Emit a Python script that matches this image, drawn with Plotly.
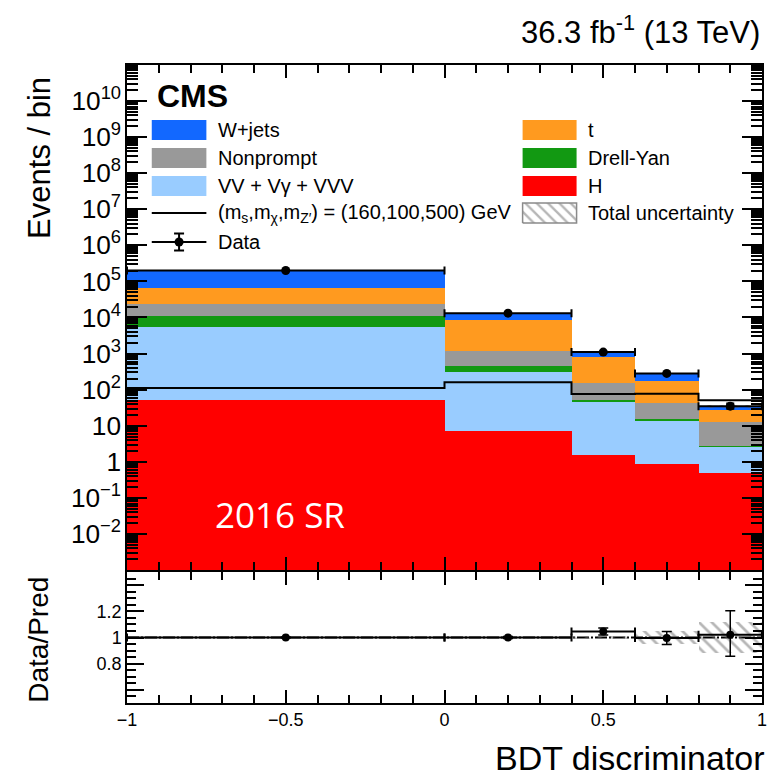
import numpy as np
import plotly.graph_objects as go

# ---- binning (BDT discriminator) ----
bin_edges = [-1.0, 0.0, 0.4, 0.6, 0.8, 1.0]

# ---- expected yields per process and bin ----
h_yield = [52, 7.0, 1.6, 0.89, 0.49]
vv_yield = [5348, 309, 44.4, 13.1, 2.2]
dy_yield = [5500, 134, 5.0, 1.0, 0.05]
nonprompt_yield = [12100, 720, 99, 29, 10.15]
top_yield = [44000, 7330, 680, 126, 14.1]
wjets_yield = [133000, 4700, 222, 113, 7.3]

# ---- signal hypothesis (m_s, m_chi, m_Z') = (160, 100, 500) GeV ----
signal_yield = [111, 160, 76, 77, 51]

# ---- observed data and relative statistical errors ----
data_obs = [200000, 13200, 1100, 282, 35]
data_rel_up = [0.003, 0.008, 0.025, 0.05, 0.18]
data_rel_dn = [0.003, 0.008, 0.025, 0.05, 0.16]

# ---- relative total uncertainty of the prediction ----
pred_rel_unc = [0.004, 0.005, 0.015, 0.05, 0.115]

# stack order from bottom to top, with fill colours and legend labels
processes = [
    ("H", h_yield, "#ff0000"),
    ("VV + V\u03b3 + VVV", vv_yield, "#99ccff"),
    ("Drell-Yan", dy_yield, "#129912"),
    ("Nonprompt", nonprompt_yield, "#999999"),
    ("t", top_yield, "#ff9a1f"),
    ("W+jets", wjets_yield, "#1268ff"),
]

edges = np.array(bin_edges)
centers = 0.5 * (edges[:-1] + edges[1:])
widths = np.diff(edges)
half_w = widths / 2

FONT = "Liberation Sans, Arial, Helvetica, sans-serif"

fig = go.Figure()

# stacked histogram drawn as bars with explicit bases
cum = np.zeros(len(centers))
for i, (name, vals, color) in enumerate(processes):
    vals = np.array(vals, dtype=float)
    fig.add_trace(go.Bar(
        x=centers, y=vals, width=widths,
        base=None if i == 0 else cum.copy(),
        marker=dict(color=color, line=dict(width=0)),
        name=name, showlegend=False, xaxis="x", yaxis="y",
    ))
    cum = cum + vals
total_pred = cum

# total uncertainty band on the stack
unc = np.array(pred_rel_unc)
hatch = dict(shape="\\", fgcolor="#6e6e6e", size=9, solidity=0.3, fillmode="overlay")
fig.add_trace(go.Bar(
    x=centers, y=2 * unc * total_pred, base=total_pred * (1 - unc), width=widths,
    marker=dict(color="rgba(0,0,0,0)", line=dict(width=0), pattern=hatch),
    showlegend=False, xaxis="x", yaxis="y",
))

# signal step line
fig.add_trace(go.Scatter(
    x=edges, y=list(signal_yield) + [signal_yield[-1]],
    mode="lines", line=dict(color="black", width=2, shape="hv"),
    showlegend=False, xaxis="x", yaxis="y",
))

# observed data
data = np.array(data_obs, dtype=float)
fig.add_trace(go.Scatter(
    x=centers, y=data, mode="markers",
    marker=dict(color="black", size=9),
    error_x=dict(type="data", array=half_w, color="black", thickness=2, width=4),
    error_y=dict(type="data", array=data * np.array(data_rel_up),
                 arrayminus=data * np.array(data_rel_dn),
                 color="black", thickness=2, width=4),
    showlegend=False, xaxis="x", yaxis="y",
))

# ---- ratio panel ----
ratio = data / total_pred
fig.add_trace(go.Bar(
    x=centers, y=2 * unc, base=1 - unc, width=widths,
    marker=dict(color="rgba(0,0,0,0)", line=dict(width=0), pattern=hatch),
    showlegend=False, xaxis="x2", yaxis="y2",
))
fig.add_trace(go.Scatter(
    x=centers, y=ratio, mode="markers",
    marker=dict(color="black", size=8),
    error_x=dict(type="data", array=half_w, color="black", thickness=2, width=4),
    error_y=dict(type="data", array=ratio * np.array(data_rel_up),
                 arrayminus=ratio * np.array(data_rel_dn),
                 color="black", thickness=1.5, width=5),
    showlegend=False, xaxis="x2", yaxis="y2",
))

# ---- hand-built two-column legend ----
shapes = []
leg_font = dict(family=FONT, size=20, color="black")
annotations = []
left_x0, left_x1, left_tx = 0.039, 0.125, 0.1406
right_x0, right_x1, right_tx = 0.623, 0.708, 0.7234
row_y = [0.8713, 0.8158, 0.7604, 0.7069, 0.6495]
half_h = 0.0198

legend_boxes = [
    ("W+jets", "#1268ff", left_x0, left_x1, left_tx, row_y[0]),
    ("Nonprompt", "#999999", left_x0, left_x1, left_tx, row_y[1]),
    ("VV + V\u03b3 + VVV", "#99ccff", left_x0, left_x1, left_tx, row_y[2]),
    ("t", "#ff9a1f", right_x0, right_x1, right_tx, row_y[0]),
    ("Drell-Yan", "#129912", right_x0, right_x1, right_tx, row_y[1]),
    ("H", "#ff0000", right_x0, right_x1, right_tx, row_y[2]),
]
for label, color, x0, x1, tx, yc in legend_boxes:
    shapes.append(dict(type="rect", xref="x domain", yref="y domain",
                       x0=x0, x1=x1, y0=yc - half_h, y1=yc + half_h,
                       fillcolor=color, line=dict(width=0), layer="above"))
    annotations.append(dict(xref="x domain", yref="y domain", x=tx, y=yc,
                            text=label, showarrow=False, xanchor="left",
                            yanchor="middle", font=leg_font))

# signal entry
shapes.append(dict(type="line", xref="x domain", yref="y domain",
                   x0=left_x0, x1=left_x1, y0=row_y[3], y1=row_y[3],
                   line=dict(color="black", width=2), layer="above"))
annotations.append(dict(xref="x domain", yref="y domain", x=left_tx, y=row_y[3],
                        text="(m<sub>s</sub>,m<sub>\u03c7</sub>,m<sub>Z\u2032</sub>) = (160,100,500) GeV",
                        showarrow=False, xanchor="left", yanchor="middle", font=leg_font))
# data entry
shapes.append(dict(type="line", xref="x domain", yref="y domain",
                   x0=left_x0, x1=left_x1, y0=row_y[4], y1=row_y[4],
                   line=dict(color="black", width=2), layer="above"))
fig.add_trace(go.Scatter(
    x=[(left_x0 + left_x1) / 2], y=[row_y[4]], mode="markers",
    marker=dict(color="black", size=9),
    error_y=dict(type="constant", value=0.017, color="black", thickness=2, width=5),
    showlegend=False, xaxis="x3", yaxis="y3", hoverinfo="skip",
))
annotations.append(dict(xref="x domain", yref="y domain", x=left_tx, y=row_y[4],
                        text="Data", showarrow=False, xanchor="left",
                        yanchor="middle", font=leg_font))
# total uncertainty entry
ty = row_y[3]
fig.add_trace(go.Scatter(
    x=[right_x0, right_x1, right_x1, right_x0, right_x0],
    y=[ty - half_h, ty - half_h, ty + half_h, ty + half_h, ty - half_h],
    mode="lines", fill="toself", fillcolor="white",
    fillpattern=dict(shape="\\", fgcolor="#6e6e6e", bgcolor="white", size=8, solidity=0.3),
    line=dict(color="#8a8a8a", width=1.5),
    showlegend=False, xaxis="x3", yaxis="y3", hoverinfo="skip",
))
annotations.append(dict(xref="x domain", yref="y domain", x=right_tx, y=ty,
                        text="Total uncertainty", showarrow=False, xanchor="left",
                        yanchor="middle", font=leg_font))

# reference line at ratio 1
shapes.append(dict(type="line", xref="x2 domain", yref="y2", x0=0, x1=1, y0=1, y1=1,
                   line=dict(color="black", width=2, dash="12px,2px,2px,2px"), layer="below"))

# ---- text labels ----
annotations += [
    dict(xref="paper", yref="paper", x=1.0, y=1.0549,
         text="36.3 fb<sup>-1</sup> (13 TeV)", showarrow=False,
         xanchor="right", yanchor="middle", font=dict(family=FONT, size=31, color="black")),
    dict(xref="x domain", yref="y domain", x=0.044, y=0.9386, text="<b>CMS</b>",
         showarrow=False, xanchor="left", yanchor="middle",
         font=dict(family=FONT, size=32, color="black")),
    dict(xref="paper", yref="paper", x=-0.139, y=0.854, text="Events / bin",
         textangle=-90, showarrow=False, xanchor="center", yanchor="middle",
         font=dict(family=FONT, size=31, color="black")),
    dict(xref="paper", yref="paper", x=-0.1406, y=0.0987, text="Data/Pred",
         textangle=-90, showarrow=False, xanchor="center", yanchor="middle",
         font=dict(family=FONT, size=28, color="black")),
    dict(xref="paper", yref="paper", x=1.008, y=-0.0862, text="BDT discriminator",
         showarrow=False, xanchor="right", yanchor="middle",
         font=dict(family=FONT, size=34, color="black")),
    dict(xref="x domain", yref="y domain", x=0.2406, y=0.109, text="2016 SR",
         showarrow=False, xanchor="center", yanchor="middle",
         font=dict(family="Open Sans, sans-serif", size=35, color="white")),
]

axis_common = dict(showline=True, linecolor="black", linewidth=1.5, mirror="allticks",
                   ticks="inside", tickcolor="black", showgrid=False, zeroline=False)

fig.update_layout(
    width=772, height=776,
    margin=dict(l=127, r=5, t=65, b=73),
    paper_bgcolor="white", plot_bgcolor="white",
    barmode="overlay", bargap=0,
    showlegend=False,
    font=dict(family=FONT, color="black"),
    xaxis=dict(domain=[0, 1], range=[-1, 1], anchor="y", showticklabels=False,
               dtick=0.5, tick0=0, ticklen=13, tickwidth=1.5,
               minor=dict(dtick=0.1, ticks="inside", ticklen=8, tickcolor="black", tickwidth=1.5),
               **axis_common),
    yaxis=dict(domain=[0.2085, 1], type="log", range=[-2.995, 10.995], anchor="x",
               dtick=1, exponentformat="power", ticklen=20, tickwidth=1.5,
               tickfont=dict(family=FONT, size=21),
               minor=dict(dtick="D1", ticks="inside", ticklen=11, tickcolor="black", tickwidth=1.5),
               **axis_common),
    xaxis2=dict(domain=[0, 1], range=[-1, 1], anchor="y2", showticklabels=True,
                tickvals=[-1, -0.5, 0, 0.5, 1], ticktext=["\u22121", "\u22120.5", "0", "0.5", "1"],
                ticklen=13, tickwidth=1.5, tickfont=dict(family=FONT, size=18),
                minor=dict(dtick=0.1, ticks="inside", ticklen=8, tickcolor="black", tickwidth=1.5),
                **axis_common),
    yaxis2=dict(domain=[0, 0.2053], range=[0.5, 1.5], anchor="x2",
                tickvals=[0.6, 0.8, 1.0, 1.2, 1.4], ticktext=["", "0.8", "1", "1.2", ""],
                ticklen=17, tickwidth=1.5, tickfont=dict(family=FONT, size=18),
                minor=dict(dtick=0.05, ticks="inside", ticklen=9, tickcolor="black", tickwidth=1.5),
                **axis_common),
    xaxis3=dict(overlaying="x", range=[0, 1], visible=False),
    yaxis3=dict(overlaying="y", range=[0, 1], visible=False),
    shapes=shapes,
    annotations=annotations,
)

fig.write_html("out.html")
